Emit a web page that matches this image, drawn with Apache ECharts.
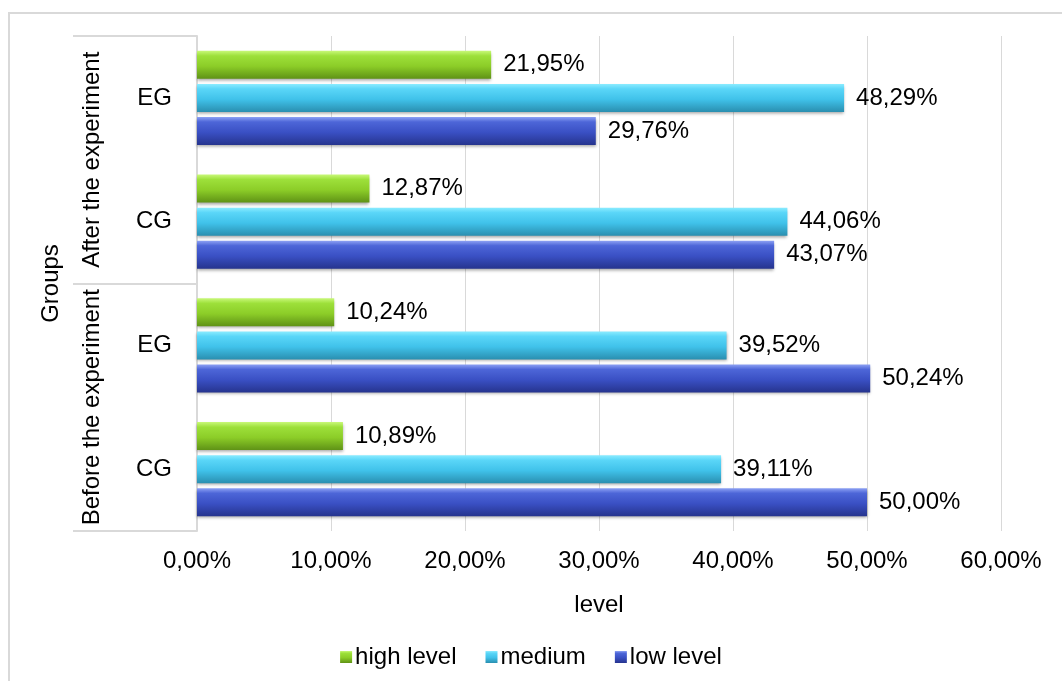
<!DOCTYPE html>
<html>
<head>
<meta charset="utf-8">
<script src="https://cdn.jsdelivr.net/npm/echarts@6/dist/echarts.min.js"></script>
<style>
  html, body { margin: 0; padding: 0; background: #fff; }
  #chart { width: 1062px; height: 681px; }
</style>
</head>
<body>
<div id="chart"></div>
<script>
// categories (bottom to top)
const groupLabels = ['CG', 'EG', 'CG', 'EG'];
const phaseLabels = ['Before the experiment', 'After the experiment'];
const seriesNames = ['high level', 'medium', 'low level'];

// values in %
const highLevel = [10.89, 10.24, 12.87, 21.95];
const mediumLevel = [39.11, 39.52, 44.06, 48.29];
const lowLevel = [50.00, 50.24, 43.07, 29.76];

const FONT = 'Liberation Sans, Arial, sans-serif';

// comma as decimal mark
const pct = v => Number(v).toFixed(2).replace('.', ',') + '%';

// bar gradient: light edge on top, darker bottom
const grad = (top, light, mid, bottom) => new echarts.graphic.LinearGradient(0, 0, 0, 1, [
    { offset: 0, color: top },
    { offset: 0.18, color: light },
    { offset: 0.55, color: mid },
    { offset: 1, color: bottom }
]);

const colors = [
    grad('#c8f878', '#9de03a', '#8ccd28', '#5f9216'),
    grad('#8cecff', '#5ad6f8', '#40c2ea', '#2a8fb0'),
    grad('#8ea2f4', '#4d66d8', '#3a50c4', '#26348e')
];

const makeSeries = (name, data, idx) => ({
    name: name,
    type: 'bar',
    data: data,
    barWidth: 28,
    barGap: '18%',
    itemStyle: {
        color: colors[idx],
        shadowColor: 'rgba(0,0,0,0.35)',
        shadowBlur: 3,
        shadowOffsetY: 2
    },
    label: {
        show: true,
        position: 'right',
        distance: 12,
        color: '#000',
        fontFamily: FONT,
        fontSize: 24,
        formatter: p => pct(p.value)
    }
});

const myChart = echarts.init(document.getElementById('chart'));
const option = {
    animation: false,
    backgroundColor: '#fff',
    textStyle: { fontFamily: FONT },
    graphic: [{
        type: 'rect',
        shape: { x: 9, y: 13, width: 1100, height: 720 },
        style: { fill: 'none', stroke: '#d9d9d9', lineWidth: 2 },
        silent: true
    }],
    grid: {
        left: 197,
        right: 61,
        top: 36,
        bottom: 150
    },
    legend: {
        data: seriesNames,
        bottom: 7,
        left: 'center',
        itemWidth: 12,
        itemHeight: 12,
        itemGap: 29,
        icon: 'rect',
        textStyle: { fontFamily: FONT, fontSize: 24, color: '#000', padding: [0, 0, 0, -2] }
    },
    xAxis: {
        type: 'value',
        min: 0,
        max: 60,
        interval: 10,
        name: 'level',
        nameLocation: 'middle',
        nameGap: 62,
        nameTextStyle: { fontFamily: FONT, fontSize: 24, color: '#000' },
        axisLine: { show: false },
        axisTick: { show: false },
        axisLabel: {
            margin: 18,
            fontFamily: FONT,
            fontSize: 24,
            color: '#000',
            formatter: v => pct(v)
        },
        splitLine: { show: true, lineStyle: { color: '#d9d9d9', width: 1 } }
    },
    yAxis: [{
        type: 'category',
        data: groupLabels,
        position: 'left',
        axisLine: { show: true, lineStyle: { color: '#d9d9d9', width: 2 } },
        axisTick: { show: false },
        axisLabel: { interval: 0, margin: 25, fontFamily: FONT, fontSize: 24, color: '#000' }
    }, {
        type: 'category',
        data: phaseLabels,
        position: 'left',
        offset: 0,
        name: 'Groups',
        nameLocation: 'middle',
        nameRotate: 90,
        nameGap: 134,
        nameTextStyle: { fontFamily: FONT, fontSize: 24, color: '#000' },
        axisLine: { show: false },
        axisTick: { show: true, interval: 0, length: 124, lineStyle: { color: '#d9d9d9', width: 2 } },
        axisLabel: { interval: 0, rotate: 90, margin: 93, fontFamily: FONT, fontSize: 24, color: '#000' }
    }],
    series: [
        makeSeries(seriesNames[0], highLevel, 0),
        makeSeries(seriesNames[1], mediumLevel, 1),
        makeSeries(seriesNames[2], lowLevel, 2)
    ]
};
option && myChart.setOption(option);
</script>
</body>
</html>
